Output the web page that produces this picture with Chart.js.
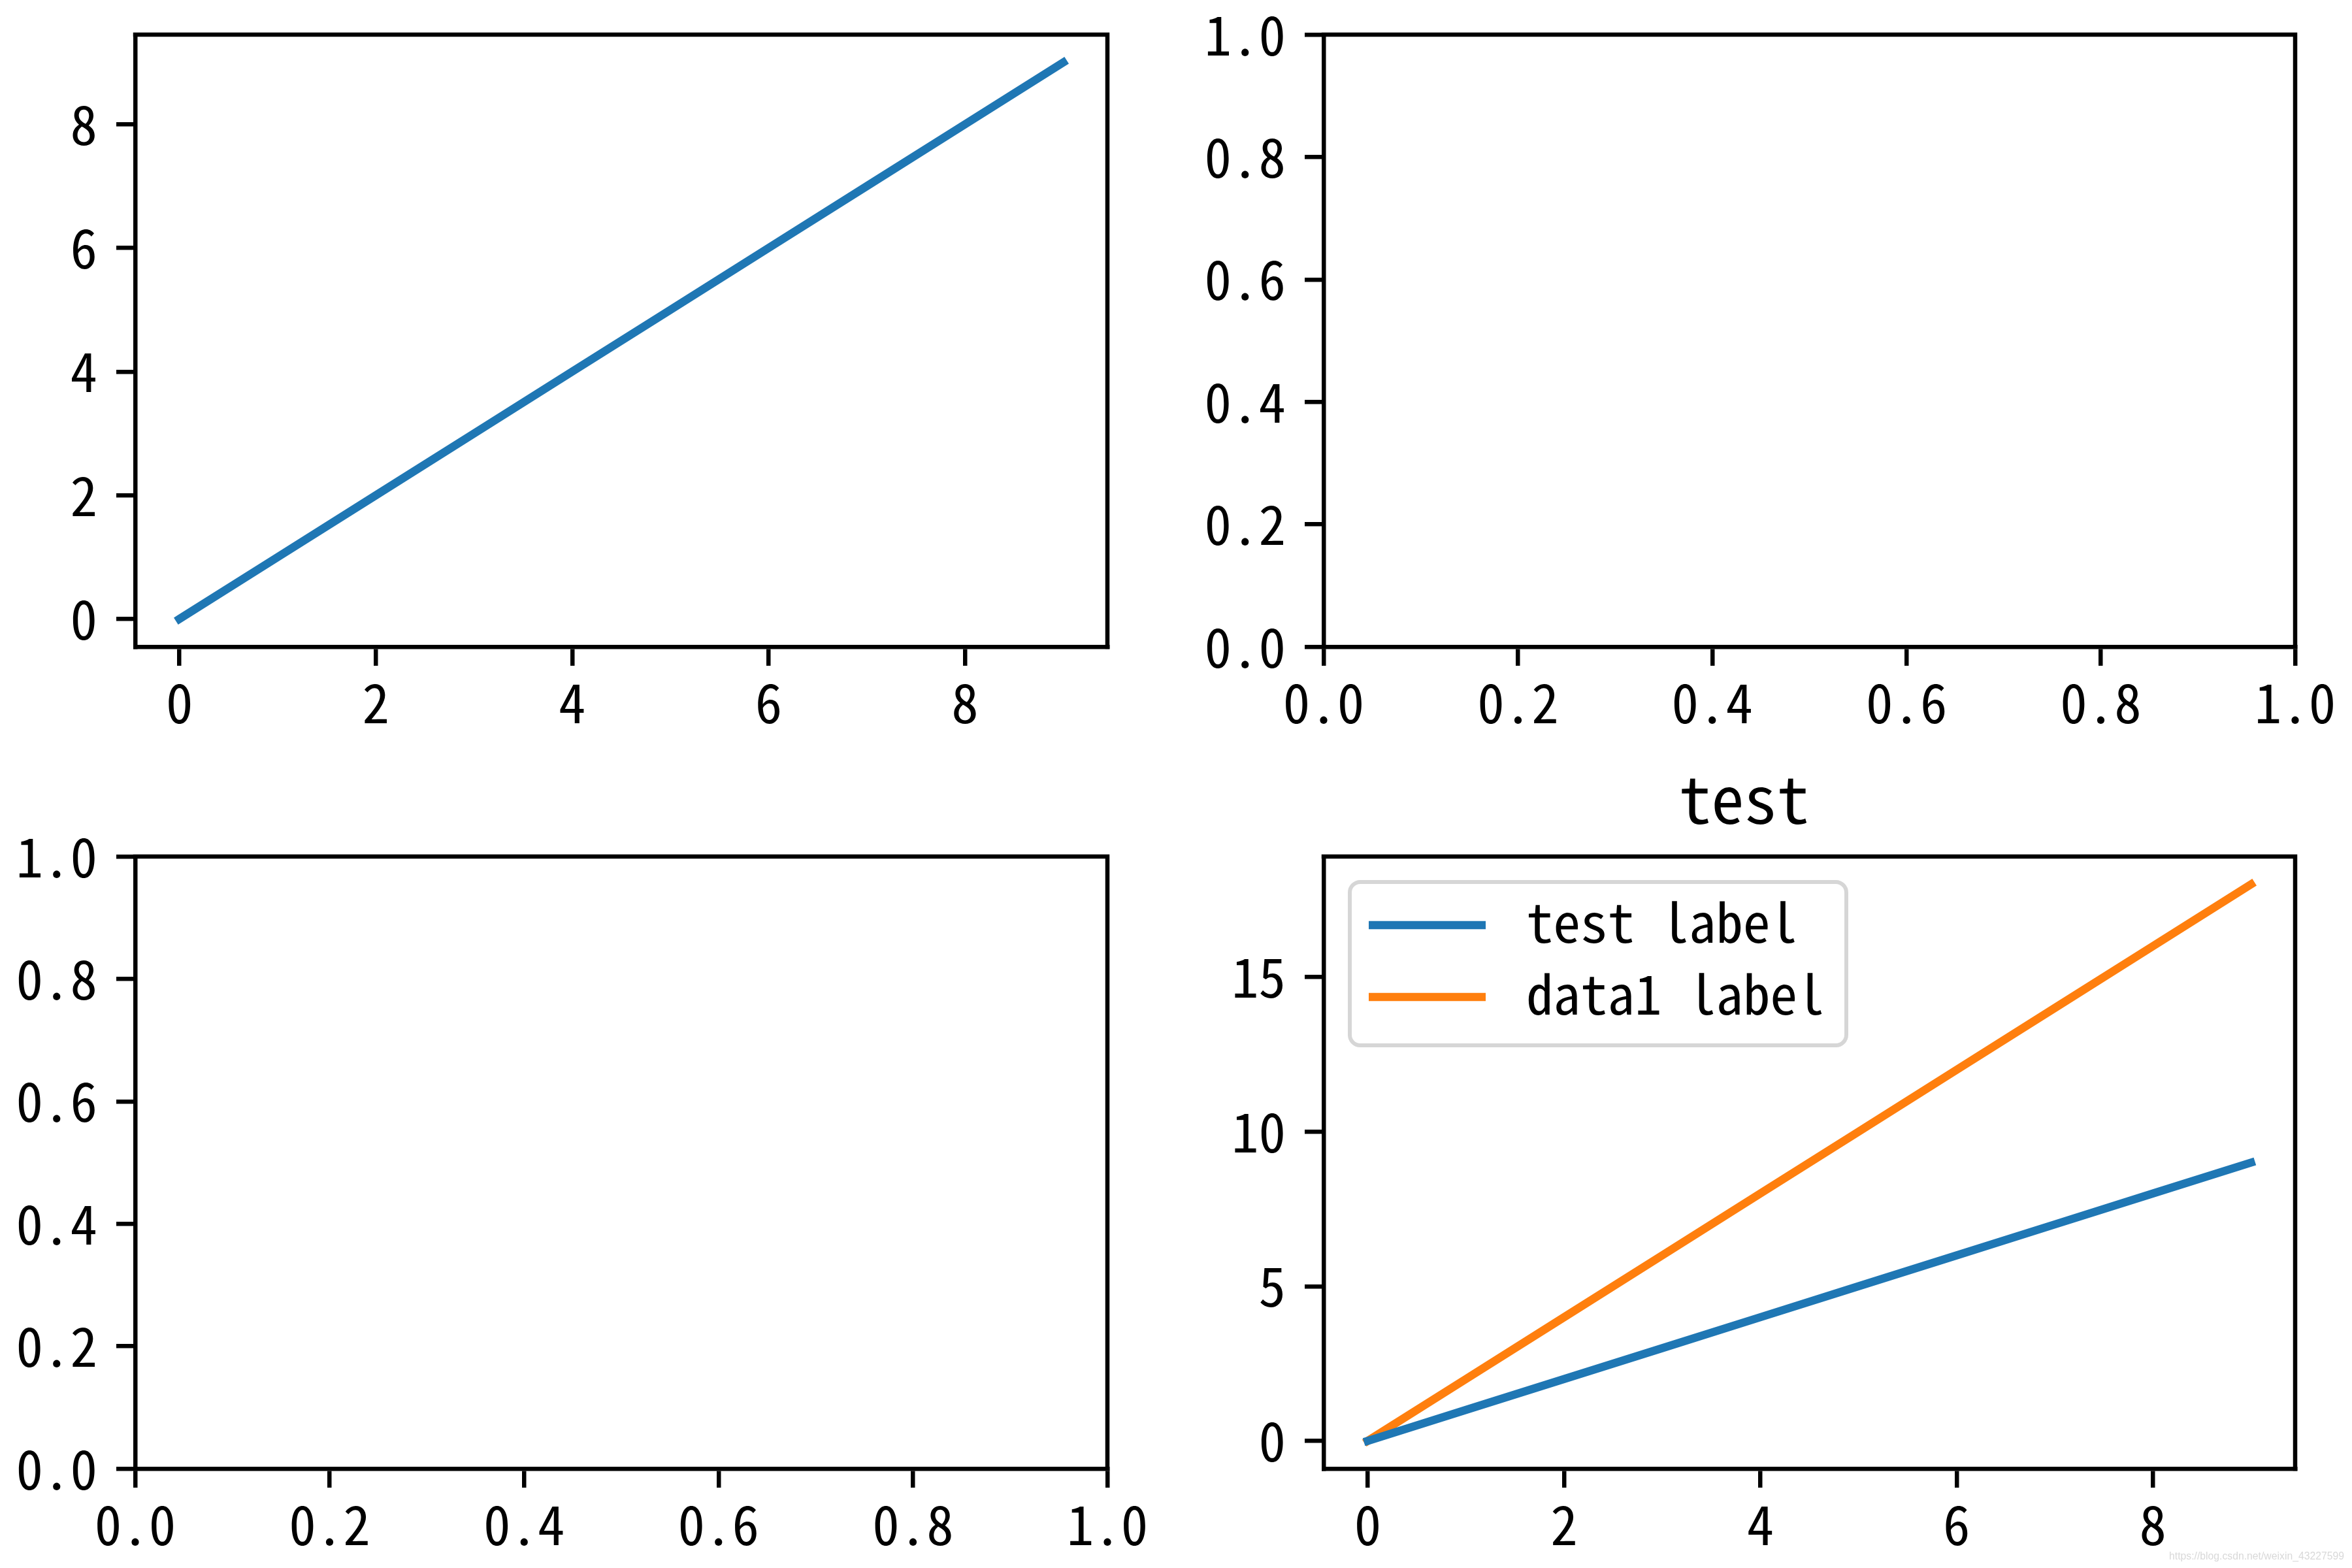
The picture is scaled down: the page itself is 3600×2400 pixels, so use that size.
<!DOCTYPE html>
<html>
<head>
<meta charset="utf-8">
<script src="https://cdn.jsdelivr.net/npm/chart.js@4.4.1/dist/chart.umd.min.js"></script>
<style>
  html, body { margin: 0; padding: 0; background: #fff; }
  #wrap { position: relative; width: 3600px; height: 2400px; }
  #wrap canvas { position: absolute; left: 0; top: 0; }
</style>
</head>
<body>
<div id="wrap">
  <canvas id="plot-1" width="3600" height="2400"></canvas>
  <canvas id="plot-2" width="3600" height="2400"></canvas>
  <canvas id="plot-3" width="3600" height="2400"></canvas>
  <canvas id="plot-4" width="3600" height="2400"></canvas>
</div>
<script>
'use strict';

// ******** DATA **********

let xValues = [0, 1, 2, 3, 4, 5, 6, 7, 8, 9];
let testValues = [0, 1, 2, 3, 4, 5, 6, 7, 8, 9];
let data1Values = [0, 2, 4, 6, 8, 10, 12, 14, 16, 18];
let seriesLabels = ['test label', 'data1 label'];
let seriesColors = ['#1f77b4', '#ff7f0e'];

let intTicks = [0, 2, 4, 6, 8];
let unitTicks = [0, 0.2, 0.4, 0.6, 0.8, 1.0];
let bigTicks = [0, 5, 10, 15];
let titleText = 'test';
let watermark = 'https://blog.csdn.net/weixin_43227599';

// ******** LOOK **********

let fontFamily = "'Noto Sans Mono CJK SC', 'Noto Sans CJK SC', 'Liberation Mono', monospace";
let fontSize = 83;
let spineWidth = 6.5;
let yBoxWidth = 200;
let xBoxHeight = 150;

// plot boxes in page pixels [left, top, right, bottom]
let boxes = [
  [207, 53, 1695, 990],
  [2026, 53, 3513, 990],
  [207, 1311, 1695, 2248],
  [2026, 1311, 3513, 2248]
];

// ******** HELPERS **********

function toPoints(xs, ys) {
  return xs.map((x, i) => ({ x: x, y: ys[i] }));
}

function makeAxis(position, min, max, tickValues, decimals) {
  let horizontal = position === 'bottom';
  return {
    type: 'linear',
    position: position,
    min: min,
    max: max,
    grid: {
      display: true,
      drawOnChartArea: false,
      drawTicks: true,
      tickLength: 29,
      lineWidth: spineWidth,
      color: '#000'
    },
    border: { display: true, width: spineWidth, color: '#000' },
    ticks: {
      autoSkip: false,
      maxRotation: 0,
      color: '#000',
      padding: horizontal ? 7 : 29,
      font: { family: fontFamily, size: fontSize },
      callback: (v) => v.toFixed(decimals)
    },
    afterBuildTicks: (scale) => {
      scale.ticks = tickValues.map((v) => ({ value: v }));
    },
    afterFit: (scale) => {
      if (horizontal) {
        scale.height = xBoxHeight;
        scale.paddingLeft = 0;
        scale.paddingRight = 0;
      } else {
        scale.width = yBoxWidth;
        scale.paddingTop = 0;
        scale.paddingBottom = 0;
      }
    }
  };
}

// top and right spines
let framePlugin = {
  id: 'frame',
  afterDraw(chart) {
    let a = chart.chartArea;
    let ctx = chart.ctx;
    ctx.save();
    ctx.strokeStyle = '#000';
    ctx.lineWidth = spineWidth;
    ctx.lineCap = 'square';
    ctx.beginPath();
    ctx.moveTo(a.left, a.top);
    ctx.lineTo(a.right, a.top);
    ctx.lineTo(a.right, a.bottom);
    ctx.stroke();
    ctx.restore();
  }
};

let legendPlugin = {
  id: 'boxLegend',
  afterDraw(chart) {
    let a = chart.chartArea;
    let ctx = chart.ctx;
    let x0 = a.left + 40;
    let y0 = a.top + 39;
    ctx.save();
    ctx.beginPath();
    ctx.roundRect(x0, y0, 760, 250, 16);
    ctx.fillStyle = 'rgba(255,255,255,0.8)';
    ctx.fill();
    ctx.strokeStyle = '#d6d6d6';
    ctx.lineWidth = 6;
    ctx.stroke();
    ctx.font = fontSize + 'px ' + fontFamily;
    ctx.textBaseline = 'alphabetic';
    ctx.fillStyle = '#000';
    chart.data.datasets.forEach((ds, i) => {
      let yMid = y0 + 66 + i * 110;
      ctx.strokeStyle = ds.borderColor;
      ctx.lineWidth = 12.5;
      ctx.lineCap = 'butt';
      ctx.beginPath();
      ctx.moveTo(x0 + 29, yMid);
      ctx.lineTo(x0 + 208, yMid);
      ctx.stroke();
      ctx.fillText(ds.label, x0 + 270, yMid + 27);
    });
    ctx.font = "17px 'Liberation Sans', sans-serif";
    ctx.fillStyle = '#d9d9d9';
    ctx.fillText(watermark, 3320, 2387, 268);
    ctx.restore();
  }
};

function makeLine(label, values, color) {
  return {
    label: label,
    data: toPoints(xValues, values),
    borderColor: color,
    backgroundColor: color,
    borderWidth: 12.5,
    borderCapStyle: 'square',
    pointRadius: 0,
    tension: 0,
    fill: false
  };
}

function makeChart(id, box, datasets, xAxis, yAxis, extraPlugins, title) {
  let top = box[1];
  if (title) {
    top = box[1] - 148;
  }
  let ctx = document.getElementById(id).getContext('2d');
  return new Chart(ctx, {
    type: 'line',
    data: { datasets: datasets },
    options: {
      responsive: false,
      animation: false,
      events: [],
      layout: {
        padding: {
          left: box[0] - yBoxWidth,
          top: top,
          right: 3600 - box[2],
          bottom: 2400 - box[3] - xBoxHeight
        }
      },
      scales: { x: xAxis, y: yAxis },
      plugins: {
        legend: { display: false },
        tooltip: { enabled: false },
        title: {
          display: !!title,
          text: title || '',
          color: '#000',
          font: { family: fontFamily, size: 100, weight: 'normal', lineHeight: 1.2 },
          padding: { top: 0, bottom: 28 }
        }
      }
    },
    plugins: [framePlugin].concat(extraPlugins)
  });
}

// ******** CHARTS **********

makeChart('plot-1', boxes[0],
  [makeLine(seriesLabels[0], testValues, seriesColors[0])],
  makeAxis('bottom', -0.45, 9.45, intTicks, 0),
  makeAxis('left', -0.45, 9.45, intTicks, 0),
  [], null);

makeChart('plot-2', boxes[1], [],
  makeAxis('bottom', 0, 1, unitTicks, 1),
  makeAxis('left', 0, 1, unitTicks, 1),
  [], null);

makeChart('plot-3', boxes[2], [],
  makeAxis('bottom', 0, 1, unitTicks, 1),
  makeAxis('left', 0, 1, unitTicks, 1),
  [], null);

makeChart('plot-4', boxes[3],
  [makeLine(seriesLabels[0], testValues, seriesColors[0]),
   makeLine(seriesLabels[1], data1Values, seriesColors[1])],
  makeAxis('bottom', -0.45, 9.45, intTicks, 0),
  makeAxis('left', -0.9, 18.9, bigTicks, 0),
  [legendPlugin], titleText);
</script>
</body>
</html>
